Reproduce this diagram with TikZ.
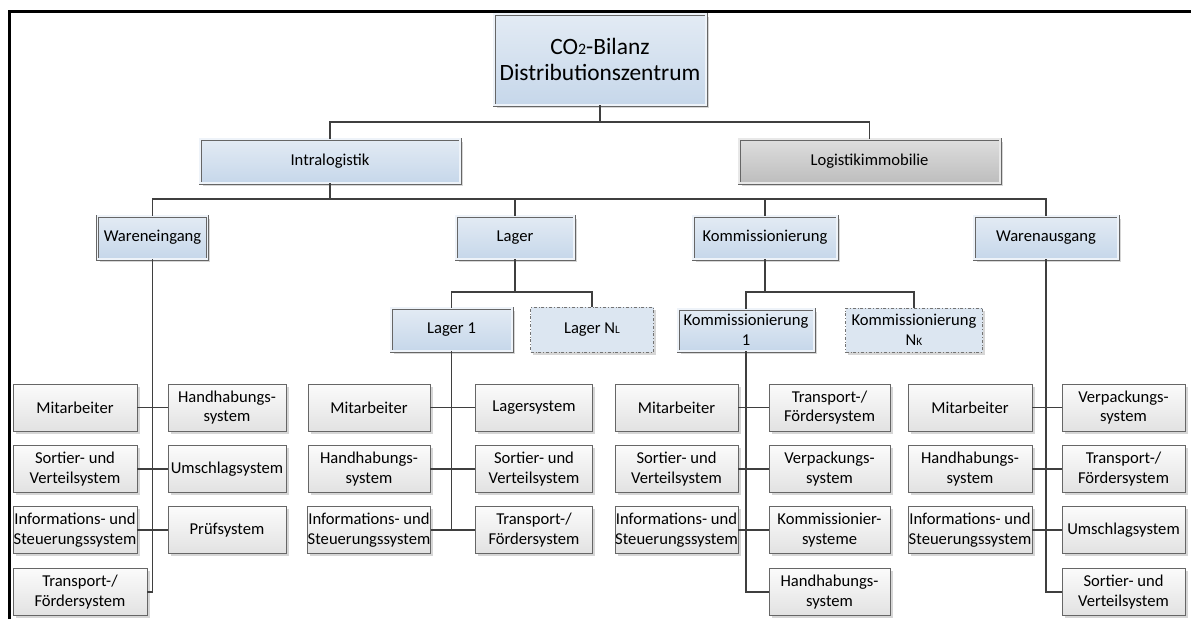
\documentclass[tikz,border=0pt]{standalone}
\usepackage{fontspec}
\setmainfont{Carlito}
\usetikzlibrary{shadows}
\definecolor{blueTop}{HTML}{E3EBF4}
\definecolor{blueBot}{HTML}{C6D7EA}
\definecolor{blueGap}{HTML}{EEF3F9}
\definecolor{greyTop}{HTML}{DEDEDE}
\definecolor{greyBot}{HTML}{BDBDBD}
\definecolor{greyGap}{HTML}{E8E8E8}
\definecolor{leafTop}{HTML}{FBFBFB}
\definecolor{leafBot}{HTML}{E2E2E2}
\definecolor{ghostFill}{HTML}{DCE6F1}
\definecolor{lineC}{HTML}{3F3F3F}
\definecolor{edgeC}{HTML}{666666}
\newcommand{\lowidx}[1]{\scalebox{0.68}{#1}}
\begin{document}
\begin{tikzpicture}[x=1pt,y=-1pt,
  base/.style={rectangle, inner sep=0pt, align=center,
    font=\fontsize{16.6}{19.5}\selectfont},
  softshadow/.style={drop shadow={shadow xshift=2.5pt, shadow yshift=-2.5pt,
    fill=black!16, opacity=1}},
  leaf/.style={base, draw=edgeC, line width=0.7pt, top color=leafTop,
    bottom color=leafBot, softshadow, minimum height=47pt},
  unit/.style={base, draw=edgeC, line width=0.7pt, double=blueGap,
    double distance=1.6pt, top color=blueTop, bottom color=blueBot,
    softshadow},
  unitgrey/.style={base, draw=edgeC, line width=0.7pt, double=greyGap,
    double distance=1.6pt, top color=greyTop, bottom color=greyBot,
    softshadow},
  ghost/.style={base, draw=black!55, line width=0.7pt, dash dot,
    fill=ghostFill, softshadow},
  conn/.style={draw=lineC, line width=1.5pt},
]
\useasboundingbox (0,0) rectangle (1191,619);
\fill[white] (0,0) rectangle (1191,619);

% frame along the top and left edge
\draw[black, line width=3pt] (9.5,619) -- (9.5,11.3) -- (1191,11.3);

% top level
\node[unit, minimum width=212pt, minimum height=91pt,
  font=\fontsize{23.4}{26}\selectfont] (top) at (600,59.5)
  {CO\lowidx{2}-Bilanz\\Distributionszentrum};

% first level
\node[unit, minimum width=260pt, minimum height=44pt] (intra) at (330,161)
  {Intralogistik};
\node[unitgrey, minimum width=261pt, minimum height=44pt] (logi) at (869.5,161)
  {Logistikimmobilie};

% second level
\node[unit, minimum width=110pt, minimum height=43pt] (wein) at (152.5,237.5)
  {Wareneingang};
\node[unit, minimum width=118pt, minimum height=43pt] (lager) at (515,237.5)
  {Lager};
\node[unit, minimum width=144pt, minimum height=43pt] (komm) at (765,237.5)
  {Kommissionierung};
\node[unit, minimum width=144pt, minimum height=43pt] (waus) at (1046,237.5)
  {Warenausgang};

% third level
\node[unit, minimum width=121pt, minimum height=43pt] (lag1) at (451.5,329.5)
  {Lager 1};
\node[ghost, minimum width=123pt, minimum height=45pt] (lagN) at (592,329.5)
  {Lager N\lowidx{L}};
\node[unit, minimum width=136pt, minimum height=42pt] (kom1) at (746,330)
  {Kommissionierung\\1};
\node[ghost, minimum width=137pt, minimum height=44pt] (komN) at (914,330)
  {Kommissionierung\\N\lowidx{K}};

% leaves: Wareneingang
\node[leaf, minimum width=124pt] (wM) at (75,407.5) {Mitarbeiter};
\node[leaf, minimum width=124pt] (wS) at (75,469) {Sortier- und\\Verteilsystem};
\node[leaf, minimum width=124pt] (wI) at (75,530) {Informations- und\\Steuerungssystem};
\node[leaf, minimum width=134pt] (wT) at (80,592) {Transport-/\\Fördersystem};
\node[leaf, minimum width=118pt] (wH) at (227,407.5) {Handhabungs-\\system};
\node[leaf, minimum width=118pt] (wU) at (227,469) {Umschlagsystem};
\node[leaf, minimum width=118pt] (wP) at (227,530) {Prüfsystem};

% leaves: Lager
\node[leaf, minimum width=122pt] (lM) at (369,407.5) {Mitarbeiter};
\node[leaf, minimum width=122pt] (lH) at (369,469) {Handhabungs-\\system};
\node[leaf, minimum width=122pt] (lI) at (369,530) {Informations- und\\Steuerungssystem};
\node[leaf, minimum width=117pt] (lL) at (534,407.5) {Lagersystem};
\node[leaf, minimum width=117pt] (lS) at (534,469) {Sortier- und\\Verteilsystem};
\node[leaf, minimum width=117pt] (lT) at (534,530) {Transport-/\\Fördersystem};

% leaves: Kommissionierung
\node[leaf, minimum width=123pt] (kM) at (676.5,407.5) {Mitarbeiter};
\node[leaf, minimum width=123pt] (kS) at (676.5,469) {Sortier- und\\Verteilsystem};
\node[leaf, minimum width=123pt] (kI) at (676.5,530) {Informations- und\\Steuerungssystem};
\node[leaf, minimum width=121pt] (kT) at (829.5,407.5) {Transport-/\\Fördersystem};
\node[leaf, minimum width=121pt] (kV) at (829.5,469) {Verpackungs-\\system};
\node[leaf, minimum width=121pt] (kK) at (829.5,530) {Kommissionier-\\systeme};
\node[leaf, minimum width=121pt] (kH) at (829.5,592) {Handhabungs-\\system};

% leaves: Warenausgang
\node[leaf, minimum width=124pt] (aM) at (970,407.5) {Mitarbeiter};
\node[leaf, minimum width=124pt] (aH) at (970,469) {Handhabungs-\\system};
\node[leaf, minimum width=124pt] (aI) at (970,530) {Informations- und\\Steuerungssystem};
\node[leaf, minimum width=123pt] (aV) at (1123.5,407.5) {Verpackungs-\\system};
\node[leaf, minimum width=123pt] (aT) at (1123.5,469) {Transport-/\\Fördersystem};
\node[leaf, minimum width=123pt] (aU) at (1123.5,530) {Umschlagsystem};
\node[leaf, minimum width=123pt] (aS) at (1123.5,592) {Sortier- und\\Verteilsystem};

% junction heights of the bars
\coordinate (j0) at (600,122);
\coordinate (j1) at (330,199);
\coordinate (j2) at (515,292);
\coordinate (j3) at (765,292);

% tree connectors
\draw[conn] (top.south) -- (top.south |- j0);
\draw[conn] (intra.north) |- (j0) -| (logi.north);
\draw[conn] (intra.south) -- (intra.south |- j1);
\draw[conn] (wein.north) |- (j1) -| (waus.north);
\draw[conn] (lager.north) -- (lager.north |- j1);
\draw[conn] (komm.north) -- (komm.north |- j1);
\draw[conn] (lager.south) -- (lager.south |- j2);
\draw[conn] (lag1.north) |- (j2) -| (lagN.north);
\draw[conn] (komm.south) -- (komm.south |- j3);
\draw[conn] (kom1.north) |- (j3) -| (komN.north);

% spines down to the components
\draw[conn] (wein.south) |- (wT.east);
\draw[conn] (wM.east) -- (wH.west);
\draw[conn] (wS.east) -- (wU.west);
\draw[conn] (wI.east) -- (wP.west);

\draw[conn] (lag1.south) -- (lag1.south |- lI.east);
\draw[conn] (lM.east) -- (lL.west);
\draw[conn] (lH.east) -- (lS.west);
\draw[conn] (lI.east) -- (lT.west);

\draw[conn] (kom1.south) |- (kH.west);
\draw[conn] (kM.east) -- (kT.west);
\draw[conn] (kS.east) -- (kV.west);
\draw[conn] (kI.east) -- (kK.west);

\draw[conn] (waus.south) |- (aS.west);
\draw[conn] (aM.east) -- (aV.west);
\draw[conn] (aH.east) -- (aT.west);
\draw[conn] (aI.east) -- (aU.west);
\end{tikzpicture}
\end{document}
